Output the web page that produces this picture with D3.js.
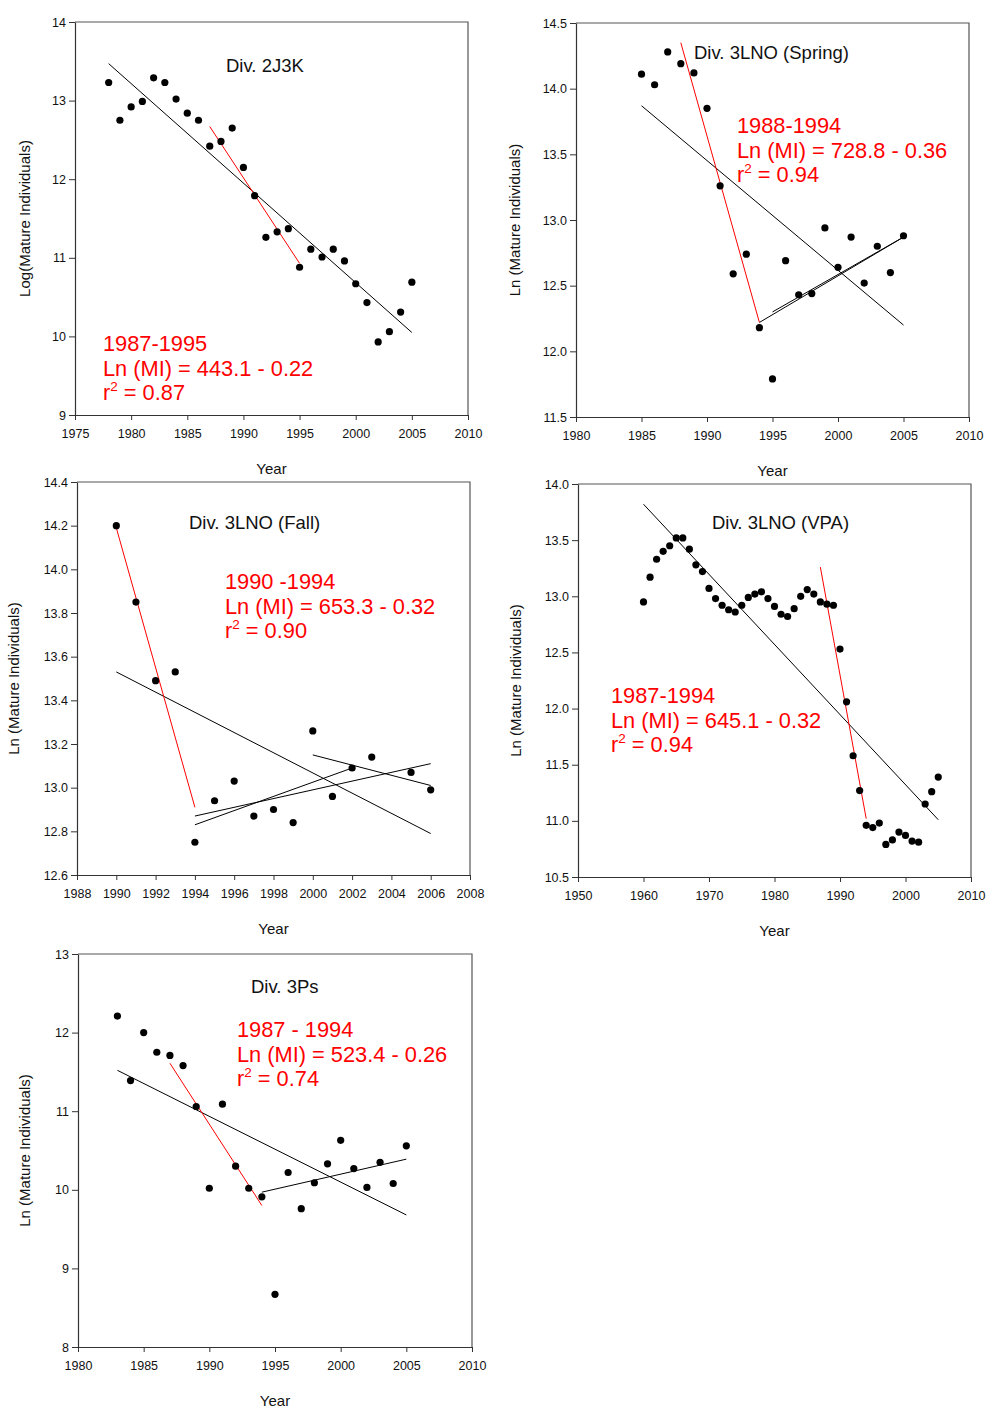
<!DOCTYPE html>
<html>
<head>
<meta charset="utf-8">
<script src="https://cdn.jsdelivr.net/npm/d3@7"></script>
<style>
  body { margin: 0; background: #fff; }
  svg { font-family: "Liberation Sans", Arial, sans-serif; }
</style>
</head>
<body>
<div id="chart-container"></div>
<script>
// ---- data ----
// Div. 2J3K
const years2J3K = [1978, 1979, 1980, 1981, 1982, 1983, 1984, 1985, 1986, 1987, 1988, 1989, 1990, 1991,
                   1992, 1993, 1994, 1995, 1996, 1997, 1998, 1999, 2000, 2001, 2002, 2003, 2004, 2005];
const mi2J3K = [13.23, 12.75, 12.92, 12.99, 13.29, 13.23, 13.02, 12.84, 12.75, 12.42, 12.48, 12.65, 12.15, 11.79,
                11.26, 11.33, 11.37, 10.88, 11.11, 11.01, 11.11, 10.96, 10.67, 10.43, 9.93, 10.06, 10.31, 10.69];
const trend2J3K = [[1978, 13.47, 2005, 10.05]];
const decline2J3K = [1987, 12.67, 1995, 10.93];
const xTicks2J3K = [1975, 1980, 1985, 1990, 1995, 2000, 2005, 2010];
const yTicks2J3K = [9, 10, 11, 12, 13, 14];
const note2J3K = ["1987-1995", "Ln (MI) = 443.1 - 0.22", "0.87"];

// Div. 3LNO (Spring)
const yearsSpring = [1985, 1986, 1987, 1988, 1989, 1990, 1991, 1992, 1993, 1994, 1995,
                     1996, 1997, 1998, 1999, 2000, 2001, 2002, 2003, 2004, 2005];
const miSpring = [14.11, 14.03, 14.28, 14.19, 14.12, 13.85, 13.26, 12.59, 12.74, 12.18, 11.79,
                  12.69, 12.43, 12.44, 12.94, 12.64, 12.87, 12.52, 12.80, 12.60, 12.88];
const trendSpring = [[1985, 13.87, 2005, 12.20], [1994, 12.22, 2005, 12.87], [1995, 12.30, 2005, 12.87]];
const declineSpring = [1988, 14.35, 1994, 12.22];
const xTicksSpring = [1980, 1985, 1990, 1995, 2000, 2005, 2010];
const yTicksSpring = [11.5, 12.0, 12.5, 13.0, 13.5, 14.0, 14.5];
const noteSpring = ["1988-1994", "Ln (MI) = 728.8 - 0.36", "0.94"];

// Div. 3LNO (Fall)
const yearsFall = [1990, 1991, 1992, 1993, 1994, 1995, 1996, 1997, 1998, 1999, 2000, 2001, 2002, 2003, 2005, 2006];
const miFall = [14.20, 13.85, 13.49, 13.53, 12.75, 12.94, 13.03, 12.87, 12.90, 12.84, 13.26, 12.96, 13.09, 13.14, 13.07, 12.99];
const trendFall = [[1990, 13.53, 2006, 12.79], [1994, 12.87, 2006, 13.11], [1994, 12.83, 2002, 13.09], [2000, 13.15, 2006, 13.01]];
const declineFall = [1990, 14.19, 1994, 12.91];
const xTicksFall = [1988, 1990, 1992, 1994, 1996, 1998, 2000, 2002, 2004, 2006, 2008];
const yTicksFall = [12.6, 12.8, 13.0, 13.2, 13.4, 13.6, 13.8, 14.0, 14.2, 14.4];
const noteFall = ["1990 -1994", "Ln (MI) = 653.3 - 0.32", "0.90"];

// Div. 3LNO (VPA)
const yearsVPA = [1960, 1961, 1962, 1963, 1964, 1965, 1966, 1967, 1968, 1969, 1970, 1971, 1972, 1973, 1974, 1975,
                  1976, 1977, 1978, 1979, 1980, 1981, 1982, 1983, 1984, 1985, 1986, 1987, 1988, 1989, 1990, 1991,
                  1992, 1993, 1994, 1995, 1996, 1997, 1998, 1999, 2000, 2001, 2002, 2003, 2004, 2005];
const miVPA = [12.95, 13.17, 13.33, 13.40, 13.45, 13.52, 13.52, 13.42, 13.28, 13.22, 13.07, 12.98, 12.92, 12.88, 12.86, 12.92,
               12.99, 13.02, 13.04, 12.98, 12.91, 12.84, 12.82, 12.89, 13.00, 13.06, 13.02, 12.95, 12.93, 12.92, 12.53, 12.06,
               11.58, 11.27, 10.96, 10.94, 10.98, 10.79, 10.83, 10.90, 10.87, 10.82, 10.81, 11.15, 11.26, 11.39];
const trendVPA = [[1960, 13.82, 2005, 11.01]];
const declineVPA = [1987, 13.26, 1994, 11.02];
const xTicksVPA = [1950, 1960, 1970, 1980, 1990, 2000, 2010];
const yTicksVPA = [10.5, 11.0, 11.5, 12.0, 12.5, 13.0, 13.5, 14.0];
const noteVPA = ["1987-1994", "Ln (MI) = 645.1 - 0.32", "0.94"];

// Div. 3Ps
const years3Ps = [1983, 1984, 1985, 1986, 1987, 1988, 1989, 1990, 1991, 1992, 1993, 1994,
                  1995, 1996, 1997, 1998, 1999, 2000, 2001, 2002, 2003, 2004, 2005];
const mi3Ps = [12.21, 11.39, 12.00, 11.75, 11.71, 11.58, 11.06, 10.02, 11.09, 10.30, 10.02, 9.91,
               8.67, 10.22, 9.76, 10.09, 10.33, 10.63, 10.27, 10.03, 10.35, 10.08, 10.56];
const trend3Ps = [[1983, 11.52, 2005, 9.68], [1994, 9.97, 2005, 10.39]];
const decline3Ps = [1987, 11.61, 1994, 9.80];
const xTicks3Ps = [1980, 1985, 1990, 1995, 2000, 2005, 2010];
const yTicks3Ps = [8, 9, 10, 11, 12, 13];
const note3Ps = ["1987 - 1994", "Ln (MI) = 523.4 - 0.26", "0.74"];

// ---- layout ----
const width = 988, height = 1416;

const panels = [
  { title: "Div. 2J3K", yLabel: "Log(Mature Individuals)", years: years2J3K, mi: mi2J3K,
    trend: trend2J3K, decline: decline2J3K, xTicks: xTicks2J3K, yTicks: yTicks2J3K, note: note2J3K, fmt: "d",
    left: 75, top: 22, w: 393, h: 393, titleX: 226, titleY: 72, noteX: 103, noteY: 351, yLabelX: 30 },
  { title: "Div. 3LNO (Spring)", yLabel: "Ln (Mature Individuals)", years: yearsSpring, mi: miSpring,
    trend: trendSpring, decline: declineSpring, xTicks: xTicksSpring, yTicks: yTicksSpring, note: noteSpring, fmt: ".1f",
    left: 576, top: 23, w: 393, h: 394, titleX: 694, titleY: 59, noteX: 737, noteY: 133, yLabelX: 520 },
  { title: "Div. 3LNO (Fall)", yLabel: "Ln (Mature Individuals)", years: yearsFall, mi: miFall,
    trend: trendFall, decline: declineFall, xTicks: xTicksFall, yTicks: yTicksFall, note: noteFall, fmt: ".1f",
    left: 77, top: 482, w: 393, h: 393, titleX: 189, titleY: 529, noteX: 225, noteY: 589, yLabelX: 19 },
  { title: "Div. 3LNO (VPA)", yLabel: "Ln (Mature Individuals)", years: yearsVPA, mi: miVPA,
    trend: trendVPA, decline: declineVPA, xTicks: xTicksVPA, yTicks: yTicksVPA, note: noteVPA, fmt: ".1f",
    left: 578, top: 484, w: 393, h: 393, titleX: 712, titleY: 529, noteX: 611, noteY: 703, yLabelX: 521 },
  { title: "Div. 3Ps", yLabel: "Ln (Mature Individuals)", years: years3Ps, mi: mi3Ps,
    trend: trend3Ps, decline: decline3Ps, xTicks: xTicks3Ps, yTicks: yTicks3Ps, note: note3Ps, fmt: "d",
    left: 78, top: 954, w: 394, h: 393, titleX: 251, titleY: 993, noteX: 237, noteY: 1037, yLabelX: 30 }
];

const svg = d3.select("#chart-container")
    .append("svg")
    .attr("width", width)
    .attr("height", height);

svg.append("rect").attr("width", width).attr("height", height).attr("fill", "#fff");

panels.forEach(p => drawPanel(p));

function drawPanel(p) {
    const x = d3.scaleLinear()
        .domain(d3.extent(p.xTicks))
        .range([p.left, p.left + p.w]);
    const y = d3.scaleLinear()
        .domain(d3.extent(p.yTicks))
        .range([p.top + p.h, p.top]);

    const g = svg.append("g");

    // top / right frame lines
    g.append("path")
        .attr("d", `M${p.left},${p.top}H${p.left + p.w}V${p.top + p.h}`)
        .attr("fill", "none")
        .attr("stroke", "#555")
        .attr("stroke-width", 1.2);

    const xAxis = g.append("g")
        .attr("transform", `translate(0,${p.top + p.h})`)
        .call(d3.axisBottom(x).tickValues(p.xTicks).tickFormat(d3.format("d"))
            .tickSize(5).tickSizeOuter(0).tickPadding(9));

    const yAxis = g.append("g")
        .attr("transform", `translate(${p.left},0)`)
        .call(d3.axisLeft(y).tickValues(p.yTicks).tickFormat(d3.format(p.fmt))
            .tickSize(6).tickSizeOuter(0).tickPadding(3));

    [xAxis, yAxis].forEach(a => {
        a.select(".domain").attr("stroke", "#333").attr("stroke-width", 1.2);
        a.selectAll(".tick line").attr("stroke", "#333");
        a.selectAll(".tick text")
            .attr("fill", "#111")
            .style("font-size", "12.5px")
            .style("font-family", "'Liberation Sans', Arial, sans-serif");
    });

    // axis titles
    g.append("text")
        .attr("x", p.left + p.w / 2)
        .attr("y", p.top + p.h + 59)
        .attr("text-anchor", "middle")
        .attr("fill", "#111")
        .style("font-size", "15px")
        .text("Year");

    g.append("text")
        .attr("transform", `translate(${p.yLabelX},${p.top + p.h / 2}) rotate(-90)`)
        .attr("text-anchor", "middle")
        .attr("fill", "#111")
        .style("font-size", "15px")
        .text(p.yLabel);

    // fitted lines
    g.selectAll("line.trend")
        .data(p.trend)
        .join("line")
        .attr("class", "trend")
        .attr("x1", d => x(d[0])).attr("y1", d => y(d[1]))
        .attr("x2", d => x(d[2])).attr("y2", d => y(d[3]))
        .attr("stroke", "#000")
        .attr("stroke-width", 1);

    g.append("line")
        .attr("x1", x(p.decline[0])).attr("y1", y(p.decline[1]))
        .attr("x2", x(p.decline[2])).attr("y2", y(p.decline[3]))
        .attr("stroke", "#ff0000")
        .attr("stroke-width", 1);

    // points
    g.selectAll("circle")
        .data(p.years.map((yr, i) => [yr, p.mi[i]]))
        .join("circle")
        .attr("cx", d => x(d[0]))
        .attr("cy", d => y(d[1]))
        .attr("r", 3.6)
        .attr("fill", "#000");

    // title
    g.append("text")
        .attr("x", p.titleX)
        .attr("y", p.titleY)
        .attr("fill", "#111")
        .style("font-size", "18.5px")
        .text(p.title);

    // red regression note
    const note = g.append("g")
        .attr("fill", "#ff0000")
        .style("font-size", "21.8px");
    note.append("text").attr("x", p.noteX).attr("y", p.noteY).text(p.note[0]);
    note.append("text").attr("x", p.noteX).attr("y", p.noteY + 24.5).text(p.note[1]);
    const r2 = note.append("text").attr("x", p.noteX).attr("y", p.noteY + 49);
    r2.append("tspan").text("r");
    r2.append("tspan").attr("dy", -9).style("font-size", "13.5px").text("2");
    r2.append("tspan").attr("dy", 9).text(" = " + p.note[2]);
}
</script>
</body>
</html>
